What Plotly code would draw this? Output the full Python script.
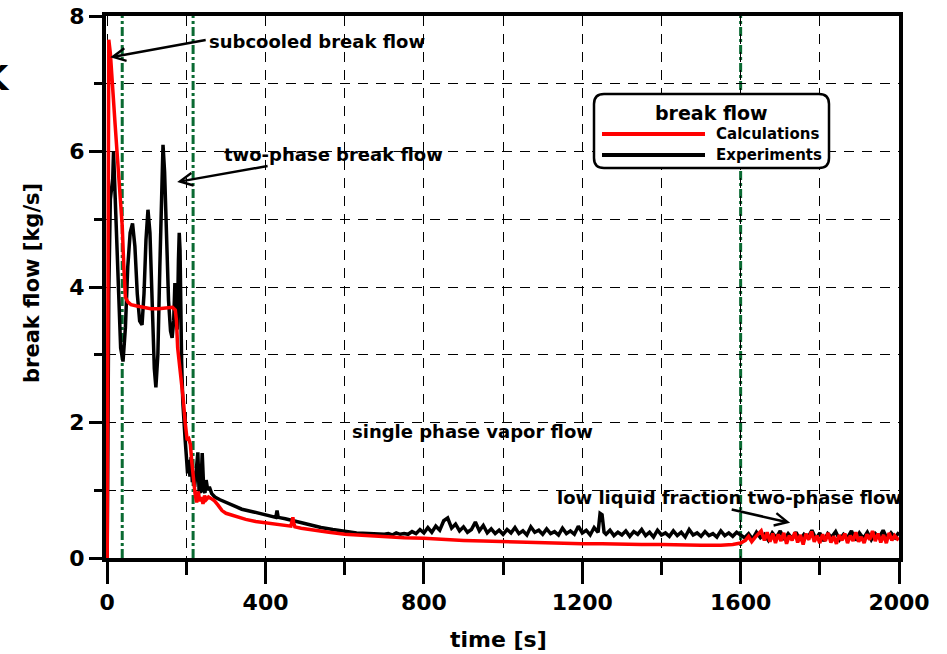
import plotly.graph_objects as go

# ---------------- data ----------------
calc_t = [0, 2, 4, 8, 14, 20, 26, 32, 38, 42, 46, 52, 60, 75, 90, 110, 130, 150, 165, 172,
          175, 178, 182, 187, 192, 197, 202, 206, 210, 214, 218, 222, 226, 230, 234, 238, 242,
          246, 250, 256, 262, 270, 280, 290, 300, 315, 330, 350, 375, 400, 425, 450, 464, 467,
          469, 471, 474, 490, 520, 560, 600, 650, 700, 750, 800, 850, 900, 950, 1000, 1050,
          1100, 1150, 1200, 1250, 1300, 1350, 1400, 1450, 1500, 1550, 1580, 1600, 1612, 1620,
          1628, 1636, 1644, 1652, 1660, 1667, 1674, 1681, 1688, 1695, 1702, 1709, 1716, 1723,
          1730, 1737, 1744, 1751, 1758, 1765, 1772, 1779, 1786, 1793, 1800, 1807, 1814, 1821,
          1828, 1835, 1842, 1849, 1856, 1863, 1870, 1877, 1884, 1891, 1898, 1905, 1912, 1919,
          1926, 1933, 1940, 1947, 1954, 1961, 1968, 1975, 1982, 1989, 1996, 2000]
calc_v = [0, 7.55, 7.65, 7.45, 7.0, 6.4, 5.9, 5.4, 4.9, 4.3, 3.85, 3.78, 3.74, 3.72, 3.7, 3.68,
          3.68, 3.69, 3.7, 3.66, 3.5, 3.1, 2.9, 2.6, 2.35, 2.0, 1.74, 1.76, 1.68, 1.4, 1.15, 0.95,
          0.82, 0.98, 0.84, 0.9, 0.8, 0.92, 0.86, 0.9, 0.88, 0.85, 0.78, 0.7, 0.66, 0.63, 0.6,
          0.57, 0.54, 0.52, 0.5, 0.48, 0.47, 0.55, 0.6, 0.52, 0.46, 0.44, 0.41, 0.38, 0.35, 0.33,
          0.31, 0.3, 0.29, 0.27, 0.26, 0.25, 0.24, 0.23, 0.22, 0.22, 0.21, 0.21, 0.2, 0.2, 0.2,
          0.19, 0.19, 0.19, 0.2, 0.22, 0.26, 0.32, 0.24, 0.3, 0.36, 0.4, 0.26, 0.38, 0.24, 0.36,
          0.22, 0.35, 0.25, 0.37, 0.21, 0.33, 0.26, 0.38, 0.23, 0.34, 0.2, 0.36, 0.27, 0.39, 0.24,
          0.33, 0.22, 0.35, 0.25, 0.37, 0.23, 0.32, 0.21, 0.34, 0.26, 0.36, 0.22, 0.33, 0.25,
          0.38, 0.24, 0.31, 0.22, 0.35, 0.27, 0.4, 0.25, 0.36, 0.23, 0.34, 0.22, 0.37, 0.26, 0.33,
          0.28, 0.3]

exp_t = [0, 4, 8, 11, 14, 16, 18, 22, 28, 34, 40, 46, 52, 58, 64, 70, 76, 82, 88, 93, 98, 103,
         108, 114, 119, 123, 128, 133, 137, 141, 145, 150, 155, 160, 164, 168, 171, 174, 177,
         180, 182, 184, 186, 188, 191, 194, 197, 200, 203, 206, 209, 212, 215, 218, 221, 225,
         229, 232, 236, 240, 244, 247, 250, 254, 258, 264, 272, 285, 300, 320, 340, 370, 404,
         420, 426, 429, 432, 450, 470, 486, 510, 540, 570, 600, 630, 660, 690,
         700, 710, 720, 730, 740, 750, 760, 770, 780, 790, 800, 810, 820, 830, 840, 850, 860,
         870, 880, 890, 900, 910, 920, 930, 940, 950, 960, 970, 980, 990, 1000, 1010, 1020,
         1030, 1040, 1050, 1060, 1070, 1080, 1090, 1100, 1110, 1120, 1130, 1140, 1150, 1160,
         1170, 1180, 1190, 1200, 1210, 1220, 1230, 1240, 1245, 1250, 1255, 1260, 1270, 1280,
         1290, 1300, 1310, 1320, 1330, 1340, 1350, 1360, 1370, 1380, 1390, 1400, 1410, 1420,
         1430, 1440, 1450, 1460, 1470, 1480, 1490, 1500, 1510, 1520, 1530, 1540, 1550, 1560,
         1570, 1580, 1590, 1600, 1610, 1620, 1630, 1640, 1650, 1660, 1670, 1680, 1690, 1700,
         1710, 1720, 1730, 1740, 1750, 1760, 1770, 1780, 1790, 1800, 1810, 1820, 1830, 1840,
         1850, 1860, 1870, 1880, 1890, 1900, 1910, 1920, 1930, 1940, 1950, 1960, 1970, 1980,
         1990, 2000]
exp_v = [0, 3.9, 5.3, 5.45, 5.6, 6.0, 5.7, 4.8, 3.9, 3.1, 2.9, 3.4, 4.3, 4.8, 4.94, 4.6, 3.9,
         3.5, 3.44, 3.9, 4.7, 5.14, 4.8, 3.6, 2.8, 2.52, 3.0, 4.3, 5.4, 6.1, 5.7, 4.6, 3.8, 3.35,
         3.25, 3.5, 4.06, 3.6, 3.37, 4.4, 4.8, 4.55, 3.6, 2.9, 2.3, 1.9, 1.74, 1.5, 1.25, 1.45,
         1.2, 1.49, 1.12, 1.2, 1.05, 1.3, 1.56, 1.0, 0.96, 1.55, 1.0, 0.96, 1.15, 1.0, 1.05,
         0.95, 0.9, 0.86, 0.82, 0.76, 0.72, 0.68, 0.63, 0.61, 0.6, 0.7, 0.6, 0.58, 0.55, 0.52,
         0.49, 0.45, 0.42, 0.39, 0.37, 0.36, 0.35,
         0.35, 0.36, 0.34, 0.37, 0.35, 0.36, 0.35, 0.39, 0.36, 0.42, 0.37, 0.45, 0.38, 0.47,
         0.41, 0.55, 0.59, 0.44, 0.5, 0.4, 0.46, 0.38, 0.42, 0.53, 0.4, 0.48, 0.37, 0.43, 0.36,
         0.41, 0.35, 0.42, 0.37, 0.45, 0.36, 0.4, 0.34, 0.46, 0.38, 0.41, 0.35, 0.43, 0.36,
         0.39, 0.34, 0.44, 0.36, 0.4, 0.35, 0.47, 0.37, 0.41, 0.34, 0.45, 0.38, 0.66, 0.64,
         0.38, 0.35, 0.41, 0.33, 0.38, 0.34, 0.4, 0.32, 0.39, 0.35, 0.42, 0.33, 0.38, 0.31,
         0.41, 0.34, 0.37, 0.32, 0.4, 0.33, 0.38, 0.31, 0.42, 0.34, 0.37, 0.32, 0.39, 0.33,
         0.36, 0.31, 0.4, 0.33, 0.37, 0.32, 0.38, 0.34, 0.3, 0.36, 0.28, 0.38, 0.3, 0.35, 0.26,
         0.37, 0.3, 0.4, 0.27, 0.36, 0.29, 0.38, 0.26, 0.35, 0.3, 0.41, 0.28, 0.37, 0.25, 0.36,
         0.31, 0.39, 0.27, 0.35, 0.3, 0.4, 0.26, 0.37, 0.29, 0.38, 0.27, 0.36, 0.3, 0.41, 0.28,
         0.37, 0.3, 0.38]

phase_bounds = [38, 217, 1600]
x_tickvals = [0, 400, 800, 1200, 1600, 2000]
y_tickvals = [0, 2, 4, 6, 8]

FONT = "DejaVu Sans"
W, H = 947, 654
ML, MR, MT, MB = 106, 48, 16, 96
PW, PH = W - ML - MR, H - MT - MB


def px(xp):
    return (xp - ML) / PW


def py(yp):
    return (H - MB - yp) / PH


fig = go.Figure()
fig.add_trace(go.Scatter(x=exp_t, y=exp_v, mode="lines", name="Experiments",
                         line=dict(color="black", width=3.5), showlegend=False))
fig.add_trace(go.Scatter(x=calc_t, y=calc_v, mode="lines", name="Calculations",
                         line=dict(color="#ff0000", width=3.5), showlegend=False))

shapes = []
for b in phase_bounds:
    shapes.append(dict(type="line", xref="x", yref="paper", x0=b, x1=b, y0=0, y1=1,
                       line=dict(color="#0a6a32", width=3, dash="9px,3px,3px,3px"),
                       layer="below"))

# legend box (rounded)
x0, x1, y0, y1 = px(594), px(829), py(168), py(94)
rx, ry = 10 / PW, 10 / PH
path = (f"M{x0+rx},{y1} L{x1-rx},{y1} Q{x1},{y1} {x1},{y1-ry} L{x1},{y0+ry} "
        f"Q{x1},{y0} {x1-rx},{y0} L{x0+rx},{y0} Q{x0},{y0} {x0},{y0+ry} "
        f"L{x0},{y1-ry} Q{x0},{y1} {x0+rx},{y1} Z")
shapes.append(dict(type="path", xref="paper", yref="paper", path=path,
                   fillcolor="white", line=dict(color="black", width=2.5), layer="above"))
shapes.append(dict(type="line", xref="paper", yref="paper", x0=px(602), x1=px(705),
                   y0=py(134), y1=py(134), line=dict(color="#ff0000", width=4), layer="above"))
shapes.append(dict(type="line", xref="paper", yref="paper", x0=px(602), x1=px(705),
                   y0=py(155), y1=py(155), line=dict(color="black", width=4), layer="above"))

ann_font = dict(family=FONT, size=18, color="black", weight="bold")
annotations = [
    dict(x=252.6, y=7.62, xref="x", yref="y", text="subcooled break flow", showarrow=False,
         xanchor="left", yanchor="middle", font=ann_font),
    dict(x=7.6, y=7.39, ax=252.6, ay=7.65, xref="x", yref="y", axref="x", ayref="y", text="",
         showarrow=True, arrowhead=5, arrowsize=1, arrowwidth=2.5, arrowcolor="black"),
    dict(x=290.5, y=5.95, xref="x", yref="y", text="two-phase break flow", showarrow=False,
         xanchor="left", yanchor="middle", font=ann_font),
    dict(x=176.8, y=5.55, ax=409, ay=5.79, xref="x", yref="y", axref="x", ayref="y", text="",
         showarrow=True, arrowhead=5, arrowsize=1, arrowwidth=2.5, arrowcolor="black"),
    dict(x=922, y=1.86, xref="x", yref="y", text="single phase vapor flow", showarrow=False,
         xanchor="center", yanchor="middle", font=ann_font),
    dict(x=1131.6, y=0.90, xref="x", yref="y", text="low liquid fraction two-phase flow",
         showarrow=False, xanchor="left", yanchor="middle", font=ann_font),
    dict(x=1725, y=0.52, ax=1573.6, ay=0.72, xref="x", yref="y", axref="x", ayref="y", text="",
         showarrow=True, arrowhead=5, arrowsize=1, arrowwidth=2.5, arrowcolor="black"),
    # legend texts
    dict(x=px(711), y=py(113), xref="paper", yref="paper", text="break flow", showarrow=False,
         xanchor="center", yanchor="middle",
         font=dict(family=FONT, size=19, color="black", weight="bold")),
    dict(x=px(714), y=py(134), xref="paper", yref="paper", text="Calculations", showarrow=False,
         xanchor="left", yanchor="middle",
         font=dict(family=FONT, size=15, color="black", weight="bold")),
    dict(x=px(714), y=py(155), xref="paper", yref="paper", text="Experiments", showarrow=False,
         xanchor="left", yanchor="middle",
         font=dict(family=FONT, size=15, color="black", weight="bold")),
    # axis titles
    dict(x=px(498), y=py(639), xref="paper", yref="paper", text="time [s]", showarrow=False,
         xanchor="center", yanchor="middle",
         font=dict(family=FONT, size=22, color="black", weight="bold")),
    dict(x=px(32), y=py(283), xref="paper", yref="paper", text="break flow [kg/s]",
         showarrow=False, textangle=-90, xanchor="center", yanchor="middle",
         font=dict(family=FONT, size=21, color="black", weight="bold")),
    dict(x=px(12), y=py(78), xref="paper", yref="paper", text="K", showarrow=False,
         xanchor="right", yanchor="middle",
         font=dict(family=FONT, size=34, color="black", weight="bold")),
]

grid_dash = "10px,8px"
fig.update_layout(
    width=W, height=H,
    margin=dict(l=ML, r=MR, t=MT, b=MB, autoexpand=False),
    paper_bgcolor="white", plot_bgcolor="white",
    showlegend=False,
    shapes=shapes, annotations=annotations,
    xaxis=dict(range=[-3, 2000], tickmode="array", tickvals=x_tickvals,
               ticks="outside", ticklen=22, tickwidth=3, tickcolor="black",
               tickfont=dict(family=FONT, size=22, color="black", weight="bold"),
               showgrid=True, gridcolor="black", gridwidth=1, griddash=grid_dash,
               minor=dict(dtick=200, tick0=0, ticks="outside", ticklen=13, tickwidth=3,
                          tickcolor="black", showgrid=True, gridcolor="black", gridwidth=1,
                          griddash=grid_dash),
               showline=True, linecolor="black", linewidth=4, mirror=True,
               zeroline=False, layer="below traces", automargin=False),
    yaxis=dict(range=[0, 8], tickmode="array", tickvals=y_tickvals,
               ticks="outside", ticklen=13, tickwidth=3, tickcolor="black",
               tickfont=dict(family=FONT, size=22, color="black", weight="bold"),
               showgrid=True, gridcolor="black", gridwidth=1, griddash=grid_dash,
               minor=dict(dtick=1, tick0=0, ticks="outside", ticklen=8, tickwidth=3,
                          tickcolor="black", showgrid=True, gridcolor="black", gridwidth=1,
                          griddash=grid_dash),
               showline=True, linecolor="black", linewidth=4, mirror=True,
               zeroline=False, layer="below traces", automargin=False),
)

fig.write_html("out.html")
